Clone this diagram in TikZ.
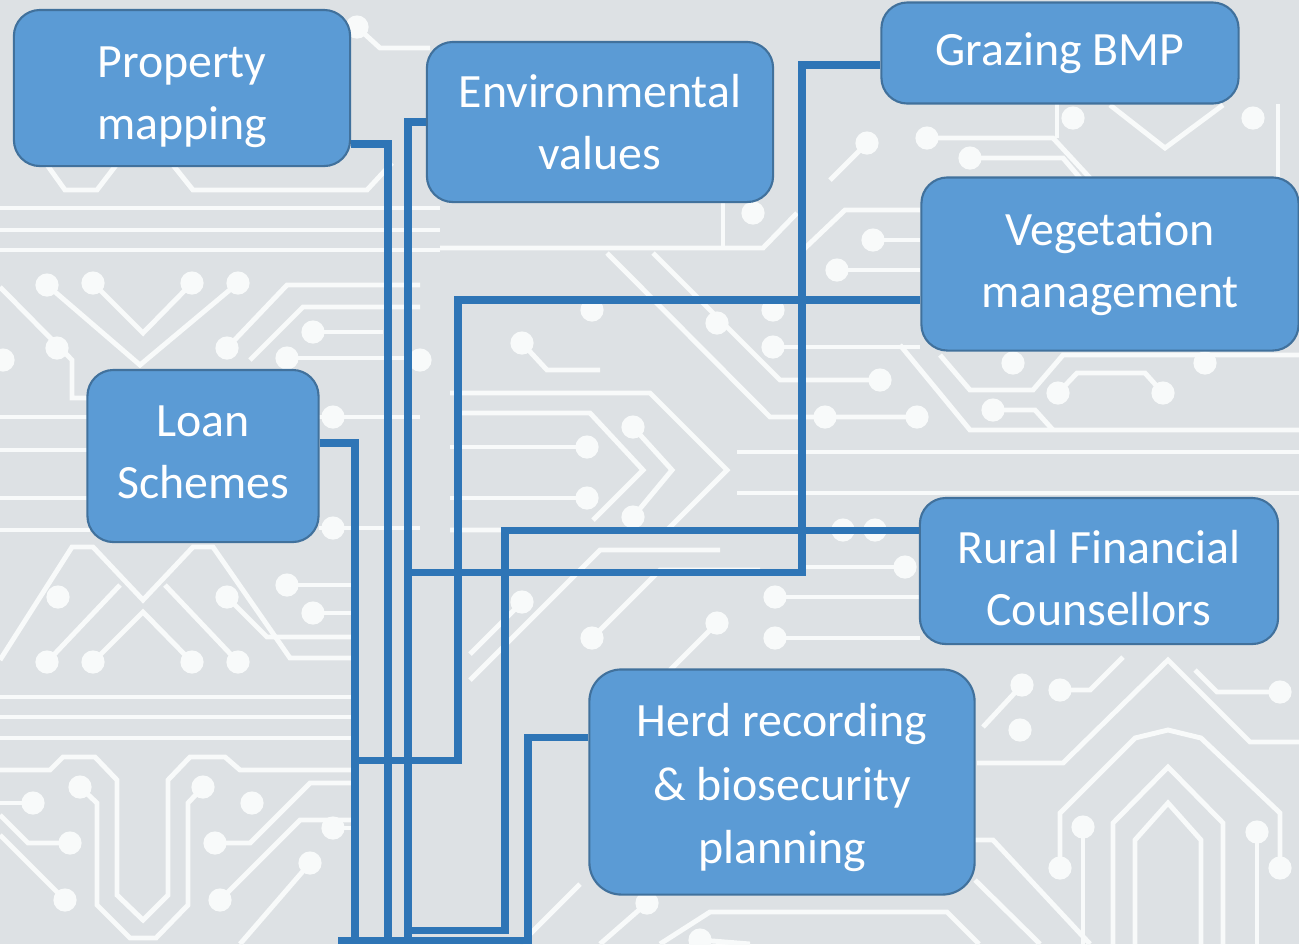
\documentclass[tikz,border=0pt]{standalone}
\usepackage{fontspec}
\setmainfont{Carlito}

\definecolor{boardgray}{RGB}{221,225,228}
\definecolor{tracewhite}{RGB}{248,250,250}
\definecolor{boxfill}{RGB}{91,155,213}
\definecolor{boxline}{RGB}{65,113,156}
\definecolor{linkblue}{RGB}{46,117,182}

\tikzset{
	topic/.style={draw=boxline, line width=0.6pt, fill=boxfill, rounded corners=0.26cm,
		text=white, align=center, inner sep=0pt, font=\fontsize{13.6}{17.6}\selectfont},
	link/.style={draw=linkblue, line width=2pt},
	trace/.style={draw=tracewhite, line width=1.4pt},
	pad/.style={fill=tracewhite},
}

\begin{document}
\begin{tikzpicture}[x=0.01cm, y=-0.01cm]
				% board
				\fill[boardgray] (0,0) rectangle (1299,944);
				\useasboundingbox (0,0) rectangle (1299,944);
				% white traces, left part
				\draw[trace] (357,27) -- (380,48) -- (430,48);
				\draw[trace] (40,155) -- (65,190) -- (97,190) -- (120,160);
				\draw[trace] (165,155) -- (193,190) -- (367,190) -- (392,163);
				\draw[trace] (0,208) -- (440,208);
				\draw[trace] (0,230) -- (440,230);
				\draw[trace] (0,250) -- (440,250);
				\draw[trace] (47,285) -- (140,365) -- (238,283);
				\draw[trace] (93,283) -- (143,333) -- (192,283);
				\draw[trace] (227,348) -- (287,285) -- (420,285);
				\draw[trace] (250,360) -- (303,307) -- (420,307);
				\draw[trace] (313,332) -- (383,332);
				\draw[trace] (287,358) -- (420,358);
				\draw[trace] (0,287) -- (72,360) -- (72,398) -- (90,398);
				\draw[trace] (0,417) -- (90,417);
				\draw[trace] (0,450) -- (90,450);
				\draw[trace] (0,498) -- (90,498);
				\draw[trace] (0,530) -- (90,530);
				\draw[trace] (319,417) -- (420,417);
				\draw[trace] (319,528) -- (420,528);
				\draw[trace] (0,660) -- (72,547) -- (93,547) -- (143,600) -- (193,547) -- (213,547) -- (290,658) -- (355,658);
				\draw[trace] (47,662) -- (120,585);
				\draw[trace] (93,662) -- (143,612) -- (192,662);
				\draw[trace] (238,662) -- (165,585);
				\draw[trace] (227,597) -- (267,637) -- (355,637);
				\draw[trace] (287,585) -- (355,585);
				\draw[trace] (313,613) -- (355,613);
				\draw[trace] (0,697) -- (355,697);
				\draw[trace] (0,717) -- (355,717);
				\draw[trace] (0,738) -- (355,738);
				\draw[trace] (0,770) -- (50,770) -- (63,757) -- (95,757) -- (117,780) -- (117,895) -- (143,920) -- (168,895) -- (168,780) -- (190,757) -- (225,757) -- (240,770) -- (355,770);
				\draw[trace] (80,787) -- (97,803) -- (97,905) -- (130,938) -- (156,938) -- (188,905) -- (188,803) -- (203,787);
				\draw[trace] (0,803) -- (33,803);
				\draw[trace] (0,815) -- (28,843) -- (70,843);
				\draw[trace] (0,835) -- (65,900);
				\draw[trace] (215,843) -- (250,843) -- (310,783) -- (355,783);
				\draw[trace] (220,900) -- (300,820) -- (355,820);
				\draw[trace] (333,828) -- (355,828);
				\draw[trace] (240,944) -- (310,863);
				% white traces, middle part
				\draw[trace] (440,248) -- (763,248) -- (797,213);
				\draw[trace] (723,203) -- (723,248);
				\draw[trace] (607,253) -- (770,417) -- (917,417);
				\draw[trace] (653,253) -- (780,380) -- (880,380);
				\draw[trace] (522,343) -- (547,370) -- (600,370);
				\draw[trace] (773,347) -- (920,347);
				\draw[trace] (450,393) -- (650,393) -- (727,470) -- (667,530) -- (450,530);
				\draw[trace] (460,413) -- (590,413) -- (643,470) -- (593,520);
				\draw[trace] (633,427) -- (672,470) -- (633,517);
				\draw[trace] (450,447) -- (587,447);
				\draw[trace] (450,498) -- (587,498);
				\draw[trace] (737,452) -- (1299,452);
				\draw[trace] (737,493) -- (1299,493);
				\draw[trace] (775,597) -- (920,597);
				\draw[trace] (775,638) -- (920,638);
				\draw[trace] (802,567) -- (905,567);
				\draw[trace] (470,680) -- (600,550) -- (720,550);
				\draw[trace] (522,602) -- (470,654);
				\draw[trace] (592,638) -- (660,570) -- (760,570);
				\draw[trace] (717,623) -- (670,670);
				\draw[trace] (520,944) -- (580,884);
				\draw[trace] (647,903) -- (600,944);
				\draw[trace] (660,944) -- (710,912) -- (947,912) -- (979,944);
				\draw[trace] (700,940) -- (750,944);
				% white traces, right part
				\draw[trace] (803,250) -- (845,210) -- (920,210);
				\draw[trace] (873,240) -- (920,240);
				\draw[trace] (837,270) -- (920,270);
				\draw[trace] (927,138) -- (1053,138) -- (1090,178);
				\draw[trace] (970,158) -- (1063,158) -- (1080,178);
				\draw[trace] (867,143) -- (830,180);
				\draw[trace] (1110,105) -- (1165,148) -- (1223,105);
				\draw[trace] (1057,104) -- (1057,138);
				\draw[trace] (1278,104) -- (1278,178);
				\draw[trace] (900,345) -- (970,430) -- (1299,430);
				\draw[trace] (940,355) -- (970,390) -- (1033,390) -- (1063,355) -- (1299,355);
				\draw[trace] (1058,393) -- (1077,373) -- (1145,373) -- (1163,393);
				\draw[trace] (993,410) -- (1035,410) -- (1053,430);
				\draw[trace] (1135,944) -- (1135,840) -- (1168,803) -- (1201,840) -- (1201,944);
				\draw[trace] (1113,944) -- (1113,823) -- (1168,767) -- (1223,823) -- (1223,944);
				\draw[trace] (1060,868) -- (1060,813) -- (1135,738) -- (1168,730) -- (1201,738) -- (1280,813) -- (1280,868);
				\draw[trace] (977,763) -- (1063,763) -- (1168,660) -- (1250,742) -- (1299,742);
				\draw[trace] (1083,827) -- (1083,944);
				\draw[trace] (1257,832) -- (1257,944);
				\draw[trace] (975,840) -- (993,840) -- (1090,944);
				\draw[trace] (975,880) -- (1040,944);
				\draw[trace] (1022,685) -- (983,727);
				\draw[trace] (1060,690) -- (1090,690) -- (1123,657);
				\draw[trace] (1280,692) -- (1217,692) -- (1195,670);
				% pads
				\fill[pad] (357,27) circle[radius=3.3pt];
				\fill[pad] (47,285) circle[radius=3.3pt] (93,283) circle[radius=3.3pt] (192,283) circle[radius=3.3pt] (238,283) circle[radius=3.3pt];
				\fill[pad] (57,348) circle[radius=3.3pt] (227,348) circle[radius=3.3pt] (313,332) circle[radius=3.3pt] (287,358) circle[radius=3.3pt] (420,360) circle[radius=3.3pt] (3,360) circle[radius=3.3pt];
				\fill[pad] (333,417) circle[radius=3.3pt] (333,528) circle[radius=3.3pt];
				\fill[pad] (58,597) circle[radius=3.3pt] (47,662) circle[radius=3.3pt] (93,662) circle[radius=3.3pt] (192,662) circle[radius=3.3pt] (238,662) circle[radius=3.3pt] (227,597) circle[radius=3.3pt] (287,585) circle[radius=3.3pt] (313,613) circle[radius=3.3pt];
				\fill[pad] (80,787) circle[radius=3.3pt] (203,787) circle[radius=3.3pt] (33,803) circle[radius=3.3pt] (252,803) circle[radius=3.3pt] (70,843) circle[radius=3.3pt] (215,843) circle[radius=3.3pt] (65,900) circle[radius=3.3pt] (220,900) circle[radius=3.3pt] (333,828) circle[radius=3.3pt] (310,863) circle[radius=3.3pt];
				\fill[pad] (522,343) circle[radius=3.3pt] (592,310) circle[radius=3.3pt] (717,323) circle[radius=3.3pt] (773,310) circle[radius=3.3pt] (773,347) circle[radius=3.3pt] (753,213) circle[radius=3.3pt];
				\fill[pad] (633,427) circle[radius=3.3pt] (633,517) circle[radius=3.3pt] (587,447) circle[radius=3.3pt] (587,498) circle[radius=3.3pt];
				\fill[pad] (880,380) circle[radius=3.3pt] (917,417) circle[radius=3.3pt] (825,417) circle[radius=3.3pt] (843,530) circle[radius=3.3pt] (875,530) circle[radius=3.3pt] (905,567) circle[radius=3.3pt] (775,597) circle[radius=3.3pt] (775,638) circle[radius=3.3pt];
				\fill[pad] (522,602) circle[radius=3.3pt] (592,638) circle[radius=3.3pt] (717,623) circle[radius=3.3pt] (647,903) circle[radius=3.3pt] (700,940) circle[radius=3.3pt];
				\fill[pad] (873,240) circle[radius=3.3pt] (837,270) circle[radius=3.3pt] (927,138) circle[radius=3.3pt] (970,158) circle[radius=3.3pt] (867,143) circle[radius=3.3pt] (1073,118) circle[radius=3.3pt] (1253,118) circle[radius=3.3pt];
				\fill[pad] (993,410) circle[radius=3.3pt] (1013,363) circle[radius=3.3pt] (1058,393) circle[radius=3.3pt] (1163,393) circle[radius=3.3pt] (1205,363) circle[radius=3.3pt];
				\fill[pad] (1083,827) circle[radius=3.3pt] (1257,832) circle[radius=3.3pt] (1060,868) circle[radius=3.3pt] (1280,868) circle[radius=3.3pt] (1022,685) circle[radius=3.3pt] (1060,690) circle[radius=3.3pt] (1020,730) circle[radius=3.3pt] (1280,692) circle[radius=3.3pt];
				% bends of the links
				\coordinate (buswest) at (338,940);
				\coordinate (buseast) at (532,940);
				\coordinate (pmbend) at (388,144);
				\coordinate (evbend) at (408,122);
				\coordinate (gzbend) at (802,65);
				\coordinate (gzfoot) at (802,572);
				\coordinate (vgbend) at (458,300);
				\coordinate (vgfoot) at (458,760);
				\coordinate (lnbend) at (355,443);
				\coordinate (rfbend) at (505,530);
				\coordinate (rffoot) at (505,930);
				\coordinate (hdbend) at (528,737);
				% topics
				\node[topic, minimum width=3.36cm, minimum height=1.56cm] (propmap) at (182,88) {\rule{0pt}{13.9pt}Property\\mapping};
				\node[topic, minimum width=3.46cm, minimum height=1.60cm] (envval) at (600,122) {Environmental\\values};
				\node[topic, minimum width=3.57cm, minimum height=1.01cm] (grazing) at (1060,53) {Grazing BMP};
				\node[topic, minimum width=3.77cm, minimum height=1.73cm] (veg) at (1110,264) {Vegetation\\management};
				\node[topic, minimum width=2.31cm, minimum height=1.72cm] (loan) at (203,456) {Loan\\Schemes\rule[-2.3pt]{0pt}{2.3pt}};
				\node[topic, minimum width=3.58cm, minimum height=1.46cm] (rfc) at (1099,571) {\rule{0pt}{13.3pt}Rural Financial\\Counsellors};
				\node[topic, minimum width=3.85cm, minimum height=2.25cm, rounded corners=0.32cm,
					font=\fontsize{13.6}{18.1}\selectfont] (herd) at (782,782) {\rule{0pt}{12.7pt}Herd recording\\\& biosecurity\\planning};
				% links
				\draw[link] (propmap.east |- pmbend) -- (pmbend) -- (pmbend |- buswest);
				\draw[link] (envval.west) -- (evbend) -- (evbend |- buswest);
				\draw[link] (grazing.west |- gzbend) -- (gzbend) -- (gzfoot) -- (evbend |- gzfoot);
				\draw[link] (veg.west |- vgbend) -- (vgbend) -- (vgfoot) -- (lnbend |- vgfoot);
				\draw[link] (loan.east |- lnbend) -- (lnbend) -- (lnbend |- buswest);
				\draw[link] (rfc.west |- rfbend) -- (rfbend) -- (rffoot) -- (evbend |- rffoot);
				\draw[link] (herd.west |- hdbend) -- (hdbend) -- (hdbend |- buswest);
				\draw[link] (buswest) -- (buseast);
			\end{tikzpicture}
\end{document}
